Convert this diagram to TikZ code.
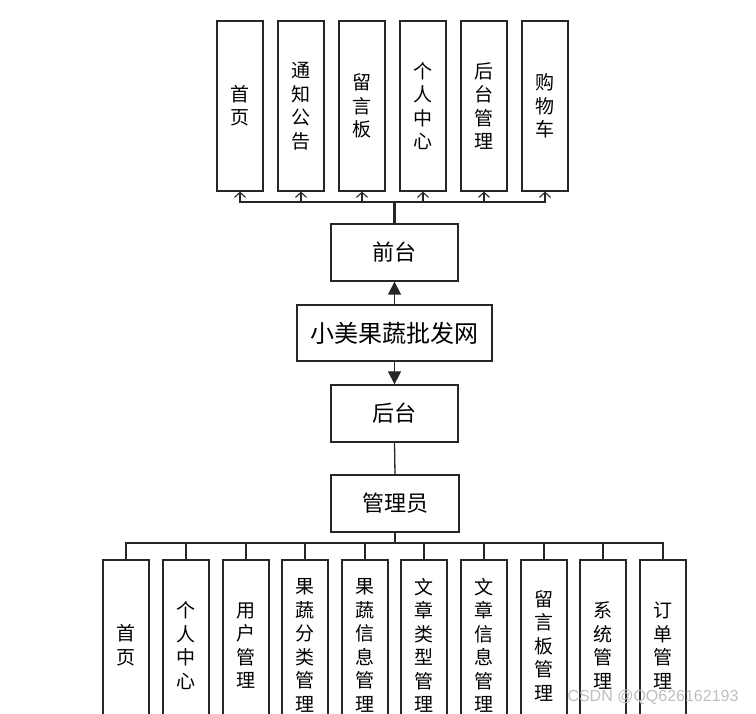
\documentclass[tikz,border=0pt]{standalone}
\usepackage{fontspec}
\newfontfamily\cjk{Noto Sans CJK SC}
\setsansfont{Liberation Sans}
\usetikzlibrary{arrows.meta}
\begin{document}
\begin{tikzpicture}[x=1pt,y=-1pt,
  box/.style={draw=black!85,line width=1.3pt,inner sep=0pt,fill=white,font=\cjk\fontsize{22}{26}\selectfont},
  vbox/.style={box,minimum width=46pt,minimum height=170pt,align=center,font=\cjk\fontsize{19}{23.5}\selectfont},
  hbox/.style={box,minimum width=127pt,minimum height=57pt},
  link/.style={draw=black!85,line width=1.3pt},
  trunk/.style={draw=black!85,line width=2.4pt},
  openhead/.style={link,-{Straight Barb[length=5pt,width=11pt,line width=1.1pt]}},
  solidhead/.style={link,-{Triangle[length=13pt,width=13pt]}}
]
\useasboundingbox (0,0) rectangle (756,714);
\clip (0,0) rectangle (756,714);
% top row
\node[vbox] (t1) at (240,106) {首\\页};
\node[vbox] (t2) at (301,106) {通\\知\\公\\告};
\node[vbox] (t3) at (362,106) {留\\言\\板};
\node[vbox] (t4) at (423,106) {个\\人\\中\\心};
\node[vbox] (t5) at (484,106) {后\\台\\管\\理};
\node[vbox] (t6) at (545,106) {购\\物\\车};
% middle
\node[hbox] (qt) at (394.5,252.5) {前台};
\node[box,minimum width=195pt,minimum height=56pt,font=\cjk\fontsize{24}{28}\selectfont] (main) at (394.5,333) {小美果蔬批发网};
\node[hbox] (ht) at (394.5,413.5) {后台};
\node[hbox,minimum width=128pt] (gly) at (395,503.5) {管理员};
% bottom row
\node[vbox,minimum height=171pt] (b1) at (126,645.5) {首\\页};
\node[vbox,minimum height=171pt] (b2) at (186,645.5) {个\\人\\中\\心};
\node[vbox,minimum height=171pt] (b3) at (246,645.5) {用\\户\\管\\理};
\node[vbox,minimum height=171pt] (b4) at (305,645.5) {果\\蔬\\分\\类\\管\\理};
\node[vbox,minimum height=171pt] (b5) at (365,645.5) {果\\蔬\\信\\息\\管\\理};
\node[vbox,minimum height=171pt] (b6) at (424,645.5) {文\\章\\类\\型\\管\\理};
\node[vbox,minimum height=171pt] (b7) at (484,645.5) {文\\章\\信\\息\\管\\理};
\node[vbox,minimum height=171pt] (b8) at (544,645.5) {留\\言\\板\\管\\理};
\node[vbox,minimum height=171pt] (b9) at (603,645.5) {系\\统\\管\\理};
\node[vbox,minimum height=171pt] (b10) at (663,645.5) {订\\单\\管\\理};
% bus coordinates
\coordinate (busT) at (394.5,202);
\coordinate (busB) at (395,543);
% top connectors
\draw[trunk] (qt.north) -- (busT);
\foreach \n in {t1,t2,t3,t4,t5,t6}{
  \draw[openhead] (busT) -| (\n.south);
}
% main arrows
\draw[solidhead] (main.north) -- (qt.south);
\draw[solidhead] (main.south) -- (ht.north);
\draw[link] (ht.south) -- (gly.north);
% bottom connectors
\draw[trunk] (gly.south) -- (busB);
\foreach \n in {b1,b2,b3,b4,b5,b6,b7,b8,b9,b10}{
  \draw[link] (busB) -| (\n.north);
}
% watermark
\node[font=\sffamily\fontsize{16}{18}\selectfont,text=black!25,inner sep=0pt] (wm) at (653,697) {CSDN @QQ626162193};
\end{tikzpicture}
\end{document}
